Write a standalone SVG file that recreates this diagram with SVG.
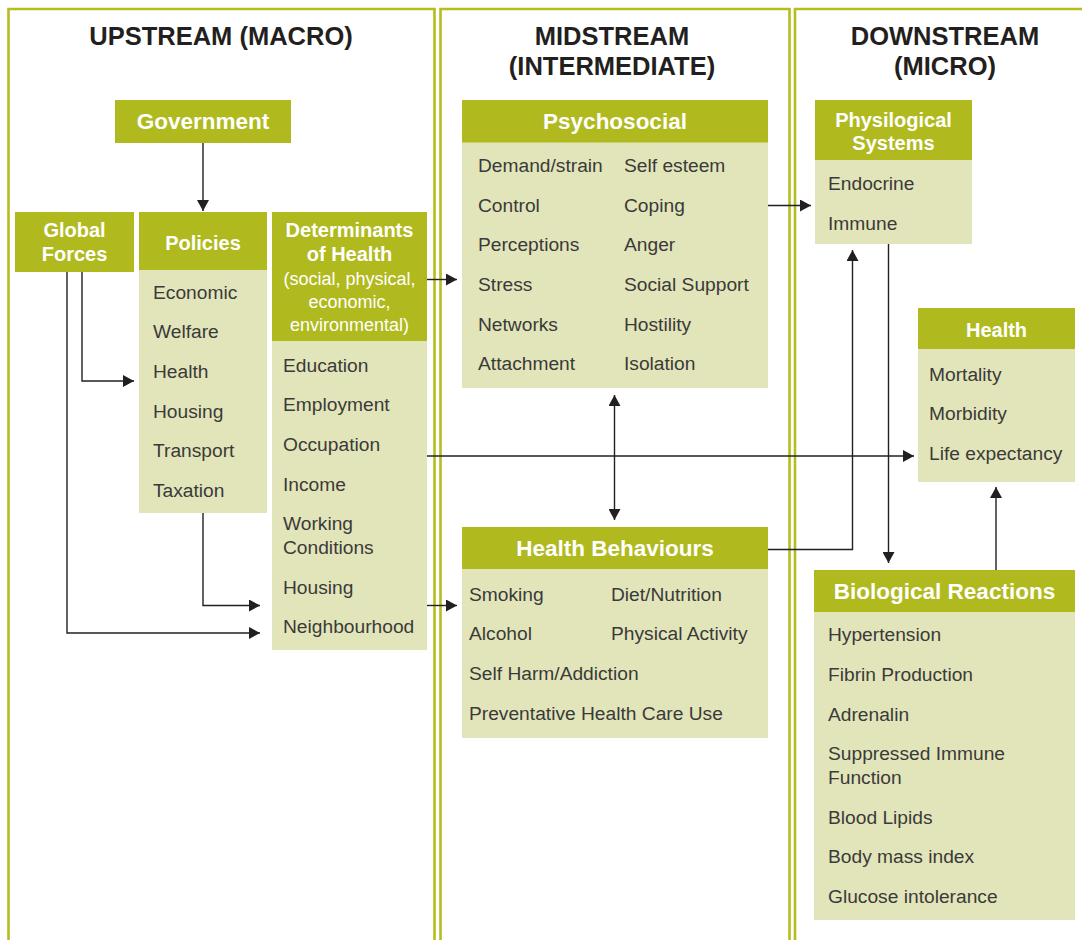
<svg xmlns="http://www.w3.org/2000/svg" width="1082" height="940" viewBox="0 0 1082 940">
<style>
.frame{fill:none;stroke:#b5bd1f;stroke-width:2.6}
.hd{fill:#b0ba1e}
.bd{fill:#e2e5b9}
.title{font-family:"Liberation Sans",Arial,sans-serif;font-size:25.5px;font-weight:bold;fill:#231f20;text-anchor:middle}
.h1{font-family:"Liberation Sans",Arial,sans-serif;font-size:22.5px;font-weight:bold;fill:#fff;text-anchor:middle}
.h2{font-family:"Liberation Sans",Arial,sans-serif;font-size:20px;font-weight:bold;fill:#fff;text-anchor:middle}
.h3{font-family:"Liberation Sans",Arial,sans-serif;font-size:18px;fill:#fff;text-anchor:middle}
.it{font-family:"Liberation Sans",Arial,sans-serif;font-size:19.2px;fill:#3a3a3a}
.cn{fill:none;stroke:#231f20;stroke-width:1.4}
</style>
<defs>
<marker id="ah" viewBox="0 0 11 12" refX="11" refY="6" markerWidth="11" markerHeight="12" markerUnits="userSpaceOnUse" orient="auto-start-reverse">
<path d="M0,0 L11,6 L0,12 z" fill="#231f20"/>
</marker>
</defs>
<rect width="1082" height="940" fill="#fff"/>
<g id="columns">
<path class="frame" d="M8.5,945 V9 H434.5 V945"/>
<path class="frame" d="M440.5,945 V9 H789.5 V945"/>
<path class="frame" d="M795,945 V9 H1090"/>
<text class="title" x="221" y="45">UPSTREAM (MACRO)</text>
<text class="title" x="612" y="45">MIDSTREAM</text>
<text class="title" x="612" y="75">(INTERMEDIATE)</text>
<text class="title" x="945" y="45">DOWNSTREAM</text>
<text class="title" x="945" y="75">(MICRO)</text>
</g>
<g id="connectors">
<path class="cn" d="M203,143 V211" marker-end="url(#ah)"/>
<path class="cn" d="M82,272 V381 H134" marker-end="url(#ah)"/>
<path class="cn" d="M67,272 V633 H260" marker-end="url(#ah)"/>
<path class="cn" d="M203,513 V605.5 H260" marker-end="url(#ah)"/>
<path class="cn" d="M427,279.5 H457" marker-end="url(#ah)"/>
<path class="cn" d="M427,605.5 H457" marker-end="url(#ah)"/>
<path class="cn" d="M427,456 H914" marker-end="url(#ah)"/>
<path class="cn" d="M614.5,395 V520" marker-start="url(#ah)" marker-end="url(#ah)"/>
<path class="cn" d="M768,205.5 H811" marker-end="url(#ah)"/>
<path class="cn" d="M768,549.5 H852.5 V250" marker-end="url(#ah)"/>
<path class="cn" d="M888.5,244 V563" marker-end="url(#ah)"/>
<path class="cn" d="M996,570 V487" marker-end="url(#ah)"/>
</g>
<g id="government">
<rect class="hd" x="115" y="100" width="176" height="43"/>
<text class="h1" x="203" y="129">Government</text>
</g>
<g id="global-forces">
<rect class="hd" x="15" y="212" width="119" height="60"/>
<text class="h2" x="74.5" y="237">Global</text>
<text class="h2" x="74.5" y="261">Forces</text>
</g>
<g id="policies">
<rect class="bd" x="139" y="212" width="128" height="301"/>
<rect class="hd" x="139" y="212" width="128" height="58"/>
<text class="h2" x="203" y="250">Policies</text>
<text class="it" x="153" y="299">Economic</text>
<text class="it" x="153" y="338">Welfare</text>
<text class="it" x="153" y="378">Health</text>
<text class="it" x="153" y="418">Housing</text>
<text class="it" x="153" y="457">Transport</text>
<text class="it" x="153" y="497">Taxation</text>
</g>
<g id="determinants">
<rect class="bd" x="272" y="212" width="155" height="438"/>
<rect class="hd" x="272" y="212" width="155" height="129"/>
<text class="h2" x="349.5" y="237">Determinants</text>
<text class="h2" x="349.5" y="261">of Health</text>
<text class="h3" x="349.5" y="285">(social, physical,</text>
<text class="h3" x="349.5" y="308">economic,</text>
<text class="h3" x="349.5" y="331">environmental)</text>
<text class="it" x="283" y="372">Education</text>
<text class="it" x="283" y="411">Employment</text>
<text class="it" x="283" y="451">Occupation</text>
<text class="it" x="283" y="491">Income</text>
<text class="it" x="283" y="530">Working</text>
<text class="it" x="283" y="554">Conditions</text>
<text class="it" x="283" y="594">Housing</text>
<text class="it" x="283" y="633">Neighbourhood</text>
</g>
<g id="psychosocial">
<rect class="bd" x="462" y="100" width="306" height="288"/>
<rect class="hd" x="462" y="100" width="306" height="42.5"/>
<text class="h1" x="615" y="129">Psychosocial</text>
<text class="it" x="478" y="172">Demand/strain</text>
<text class="it" x="478" y="212">Control</text>
<text class="it" x="478" y="251">Perceptions</text>
<text class="it" x="478" y="291">Stress</text>
<text class="it" x="478" y="331">Networks</text>
<text class="it" x="478" y="370">Attachment</text>
<text class="it" x="624" y="172">Self esteem</text>
<text class="it" x="624" y="212">Coping</text>
<text class="it" x="624" y="251">Anger</text>
<text class="it" x="624" y="291">Social Support</text>
<text class="it" x="624" y="331">Hostility</text>
<text class="it" x="624" y="370">Isolation</text>
</g>
<g id="health-behaviours">
<rect class="bd" x="462" y="527" width="306" height="211"/>
<rect class="hd" x="462" y="527" width="306" height="42"/>
<text class="h1" x="615" y="556">Health Behaviours</text>
<text class="it" x="469" y="601">Smoking</text>
<text class="it" x="611" y="601">Diet/Nutrition</text>
<text class="it" x="469" y="640">Alcohol</text>
<text class="it" x="611" y="640">Physical Activity</text>
<text class="it" x="469" y="680">Self Harm/Addiction</text>
<text class="it" x="469" y="720">Preventative Health Care Use</text>
</g>
<g id="physiological-systems">
<rect class="bd" x="815" y="100" width="157" height="144"/>
<rect class="hd" x="815" y="100" width="157" height="60"/>
<text class="h2" x="893.5" y="127">Physilogical</text>
<text class="h2" x="893.5" y="150">Systems</text>
<text class="it" x="828" y="190">Endocrine</text>
<text class="it" x="828" y="230">Immune</text>
</g>
<g id="health">
<rect class="bd" x="918" y="308" width="157" height="174"/>
<rect class="hd" x="918" y="308" width="157" height="41"/>
<text class="h2" x="996.5" y="337">Health</text>
<text class="it" x="929" y="381">Mortality</text>
<text class="it" x="929" y="420">Morbidity</text>
<text class="it" x="929" y="460">Life expectancy</text>
</g>
<g id="biological-reactions">
<rect class="bd" x="814" y="570" width="261" height="350"/>
<rect class="hd" x="814" y="570" width="261" height="42"/>
<text class="h1" x="944.5" y="599">Biological Reactions</text>
<text class="it" x="828" y="641">Hypertension</text>
<text class="it" x="828" y="681">Fibrin Production</text>
<text class="it" x="828" y="721">Adrenalin</text>
<text class="it" x="828" y="760">Suppressed Immune</text>
<text class="it" x="828" y="784">Function</text>
<text class="it" x="828" y="824">Blood Lipids</text>
<text class="it" x="828" y="863">Body mass index</text>
<text class="it" x="828" y="903">Glucose intolerance</text>
</g>
</svg>
